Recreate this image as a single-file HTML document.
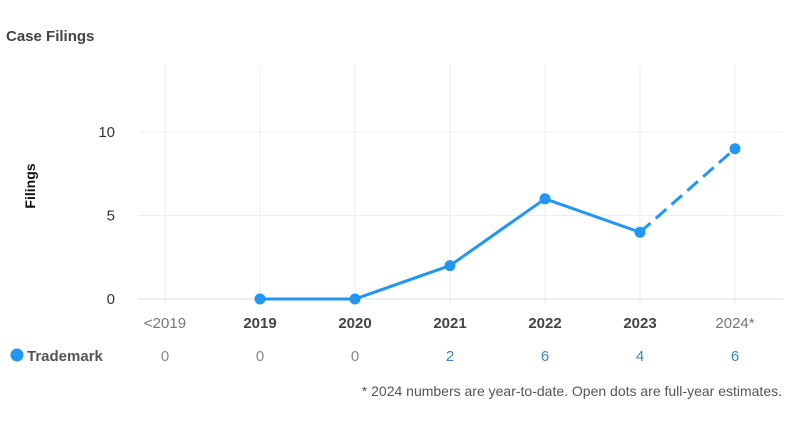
<!DOCTYPE html>
<html><head><meta charset="utf-8"><style>
html,body{margin:0;padding:0;background:#fff;}
svg{display:block;font-family:"Liberation Sans",sans-serif;}
</style></head><body>
<svg width="800" height="423" viewBox="0 0 800 423">
<text x="6" y="41" font-size="15" font-weight="bold" fill="#444">Case Filings</text>
<text transform="translate(35,186) rotate(-90)" text-anchor="middle" font-size="14" font-weight="bold" fill="#111">Filings</text>
<g id="grid"></g><g id="yticks"></g><g id="xlabels"></g><g id="series"></g><g id="table"></g>
<circle cx="17" cy="355" r="6.5" fill="#2196f3"/>
<text x="27" y="361" font-size="15" font-weight="bold" fill="#555">Trademark</text>
<text x="782" y="396" text-anchor="end" font-size="14" fill="#555">* 2024 numbers are year-to-date. Open dots are full-year estimates.</text>
</svg>
<script>
const categories=["<2019","2019","2020","2021","2022","2023","2024*"];
const plotValues=[null,0,0,2,6,4,9];
const tableValues=[0,0,0,2,6,4,6];
const yTicks=[0,5,10];
const NS="http://www.w3.org/2000/svg";
const xS=i=>165+i*95;
const yS=v=>299-v*16.7;
function mk(tag,attrs,parent,txt){const e=document.createElementNS(NS,tag);for(const k in attrs)e.setAttribute(k,attrs[k]);if(txt!=null)e.textContent=txt;document.getElementById(parent).appendChild(e);return e;}
categories.forEach((c,i)=>{
 const l=mk('line',{x1:xS(i),x2:xS(i),y1:65,y2:304,stroke:'#eee','stroke-width':1},'grid');
 
 
 const plain=(i==0||i==categories.length-1);
 const t=mk('text',{x:xS(i),y:328,'text-anchor':'middle','font-size':15,fill:plain?'#777':'#444','font-weight':plain?'normal':'bold'},'xlabels',c);
 
 
 const v=tableValues[i];
 const tv=mk('text',{x:xS(i),y:361,'text-anchor':'middle','font-size':15,fill:v===0?'#888':'#3d82c4'},'table',String(v));
 
 
});
yTicks.forEach(v=>{
 const l=mk('line',{x1:138,x2:783,y1:yS(v),y2:yS(v),stroke:v===0?'#ddd':'#eee','stroke-width':1},'grid');
 
 
 const t=mk('text',{x:115,y:yS(v)+5,'text-anchor':'end','font-size':15,fill:'#333'},'yticks',String(v));
 
 
});
const last=plotValues.length-1;
for(let i=1;i<last;i++){
 if(plotValues[i]==null||plotValues[i+1]==null)continue;
 const dashed=(i+1===last);
 const s=mk('line',{x1:xS(i),y1:yS(plotValues[i]),x2:xS(i+1),y2:yS(plotValues[i+1]),stroke:'#2196f3','stroke-width':3,'stroke-dasharray':dashed?'14,7':'none'},'series');
 
 
}
plotValues.forEach((v,i)=>{
 if(v==null)return;
 const p=mk('circle',{cx:xS(i),cy:yS(v),r:5.5,fill:'#2196f3'},'series');
 
 
});
</script>
</body></html>
